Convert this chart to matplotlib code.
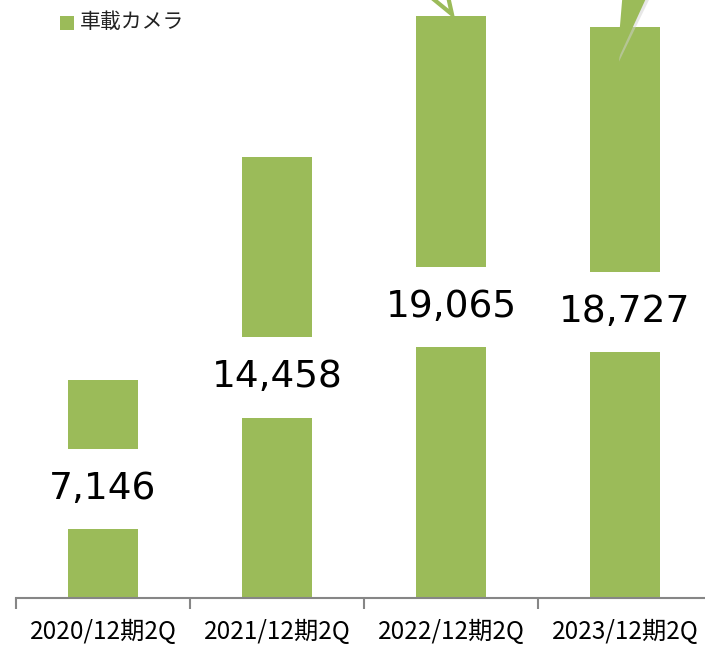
import matplotlib
matplotlib.use("Agg")
import matplotlib.pyplot as plt
from matplotlib.patches import Polygon, Rectangle

categories = ["2020/12期2Q", "2021/12期2Q", "2022/12期2Q", "2023/12期2Q"]
values = [7146, 14458, 19065, 18727]
labels = ["7,146", "14,458", "19,065", "18,727"]
series_name = "車載カメラ"

GREEN = "#9BBB59"
GRAY = "#868686"
W, H = 705, 645

fig = plt.figure(figsize=(W / 100, H / 100), dpi=100)
ax = fig.add_axes([16 / W, (H - 598) / H, 696 / W, 598 / H])
ax.set_xlim(-0.5, len(categories) - 0.5)
ax.set_ylim(0, 19600)

x = list(range(len(categories)))
ax.bar(x, values, width=0.402, color=GREEN, zorder=2)

for xi, v, lab in zip(x, values, labels):
    ax.text(xi, v / 2, lab, ha="center", va="center", fontsize=27,
            family="DejaVu Sans", color="black", zorder=4,
            bbox=dict(boxstyle="square,pad=0.59", fc="white", ec="none"))

# axes styling
for s in ["top", "right", "left"]:
    ax.spines[s].set_visible(False)
ax.spines["bottom"].set_color(GRAY)
ax.spines["bottom"].set_linewidth(1.5)
ax.set_yticks([])
ax.set_xticks(x)
ax.set_xticklabels(categories, family=["Noto Sans CJK JP", "DejaVu Sans"], fontsize=17.5)
ax.tick_params(axis="x", which="major", length=0, pad=15)
ax.set_xticks([i - 0.5 for i in range(len(categories) + 1)], minor=True)
ax.tick_params(axis="x", which="minor", length=8, width=1.5, color=GRAY, direction="out")

# callout fragments (decorative, cut off at top)
ypx = 1 / 0.03051  # data units per pixel
xpx = 1 / 174.0
t3x, t3y = x[2] + 1 * xpx, values[2] + 2 * ypx
ax.add_patch(Polygon([(t3x, t3y), (t3x - 22 * xpx, t3y + 18 * ypx),
                      (t3x - 4 * xpx, t3y + 18 * ypx)], closed=True,
                     fc="white", ec=GREEN, lw=3, clip_on=False, zorder=5,
                     transform=ax.transData))
t4x, t4y = x[3] - 8 * xpx, values[3] - 35 * ypx
ax.add_patch(Polygon([(t4x + 2 * xpx, t4y), (t4x + 9 * xpx, t4y + 72 * ypx),
                      (t4x + 37 * xpx, t4y + 72 * ypx)], closed=True,
                     fc="#d0d0d0", ec="none", alpha=0.5, clip_on=False, zorder=5))
ax.add_patch(Polygon([(t4x, t4y), (t4x + 6 * xpx, t4y + 72 * ypx),
                      (t4x + 33 * xpx, t4y + 72 * ypx)], closed=True,
                     fc=GREEN, ec="none", clip_on=False, zorder=6))

# legend
fig.patches.append(Rectangle((60 / W, 1 - 30 / H), 14 / W, 14 / H, fc=GREEN, ec="none",
                             transform=fig.transFigure, figure=fig))
fig.text(80 / W, 1 - 22 / H, series_name, ha="left", va="center", fontsize=15,
         family=["Noto Sans CJK JP", "DejaVu Sans"], color="#222222")

fig.savefig("out.png", dpi=100)
